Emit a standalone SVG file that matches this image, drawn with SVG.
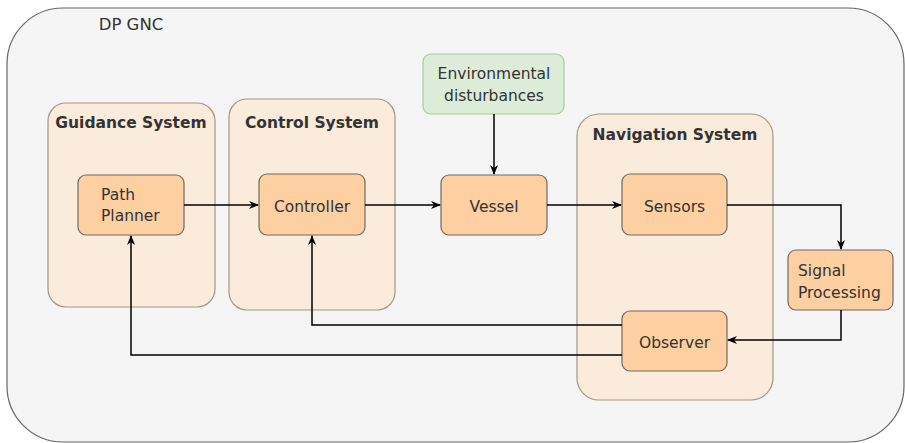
<svg xmlns="http://www.w3.org/2000/svg" width="905" height="443" viewBox="0 0 905 443">
<defs>
<style>
text{font-family:"DejaVu Sans","Liberation Sans",sans-serif;fill:#333;font-size:15.5px}
.t{font-weight:bold;text-anchor:middle}
.c{text-anchor:middle}
.grp{fill:#fbebda;stroke:#a39686;stroke-width:1.2}
.nd{fill:#fdcfa1;stroke:#6e6a66;stroke-width:1.2}
.ln{fill:none;stroke:#000;stroke-width:1.5}
</style>
<marker id="ah" viewBox="0 0 10 10" refX="9" refY="5" markerWidth="10" markerHeight="10" markerUnits="userSpaceOnUse" orient="auto">
<path d="M0,1 L10,5 L0,9 L3,5 Z" fill="#000"/>
</marker>
</defs>
<g id="dp-gnc">
<rect x="7" y="8" width="897" height="434" rx="56" fill="#f5f5f5" stroke="#666" stroke-width="1.2"/>
<text x="131" y="30" class="c" style="font-size:16.5px">DP GNC</text>
</g>
<g id="guidance-system">
<rect class="grp" x="48" y="103" width="167" height="204" rx="18"/>
<text class="t" x="131" y="128">Guidance System</text>
</g>
<g id="control-system">
<rect class="grp" x="229" y="99" width="166" height="211" rx="18"/>
<text class="t" x="312" y="128">Control System</text>
</g>
<g id="navigation-system">
<rect class="grp" x="577" y="114" width="196" height="286" rx="22"/>
<text class="t" x="675" y="140">Navigation System</text>
</g>
<g id="path-planner">
<rect class="nd" x="78" y="175" width="106" height="60" rx="8"/>
<text x="101" y="200">Path</text>
<text x="101" y="221">Planner</text>
</g>
<g id="controller">
<rect class="nd" x="259" y="174" width="106" height="61" rx="8"/>
<text class="c" x="312" y="212">Controller</text>
</g>
<g id="environmental-disturbances">
<rect x="423" y="54" width="141" height="60" rx="8" fill="#dcecd9" stroke="#a3cf92" stroke-width="1.2"/>
<text class="c" x="494" y="79">Environmental</text>
<text class="c" x="494" y="101">disturbances</text>
</g>
<g id="vessel">
<rect class="nd" x="441" y="175" width="106" height="60" rx="8"/>
<text class="c" x="494" y="212">Vessel</text>
</g>
<g id="sensors">
<rect class="nd" x="622" y="174" width="105" height="61" rx="8"/>
<text class="c" x="674.5" y="212">Sensors</text>
</g>
<g id="signal-processing">
<rect class="nd" x="788" y="250" width="105" height="60" rx="8"/>
<text x="798" y="276">Signal</text>
<text x="798" y="298">Processing</text>
</g>
<g id="observer">
<rect class="nd" x="622" y="311" width="105" height="60" rx="8"/>
<text class="c" x="674.5" y="348">Observer</text>
</g>
<g id="connectors">
<path class="ln" d="M184,205 H258" marker-end="url(#ah)"/>
<path class="ln" d="M365,205 H440" marker-end="url(#ah)"/>
<path class="ln" d="M494,114 V174" marker-end="url(#ah)"/>
<path class="ln" d="M547,205 H621" marker-end="url(#ah)"/>
<path class="ln" d="M727,205 H841 V249" marker-end="url(#ah)"/>
<path class="ln" d="M841,310 V340 H728" marker-end="url(#ah)"/>
<path class="ln" d="M622,325 H312 V236" marker-end="url(#ah)"/>
<path class="ln" d="M622,355 H131 V236" marker-end="url(#ah)"/>
</g>
</svg>
